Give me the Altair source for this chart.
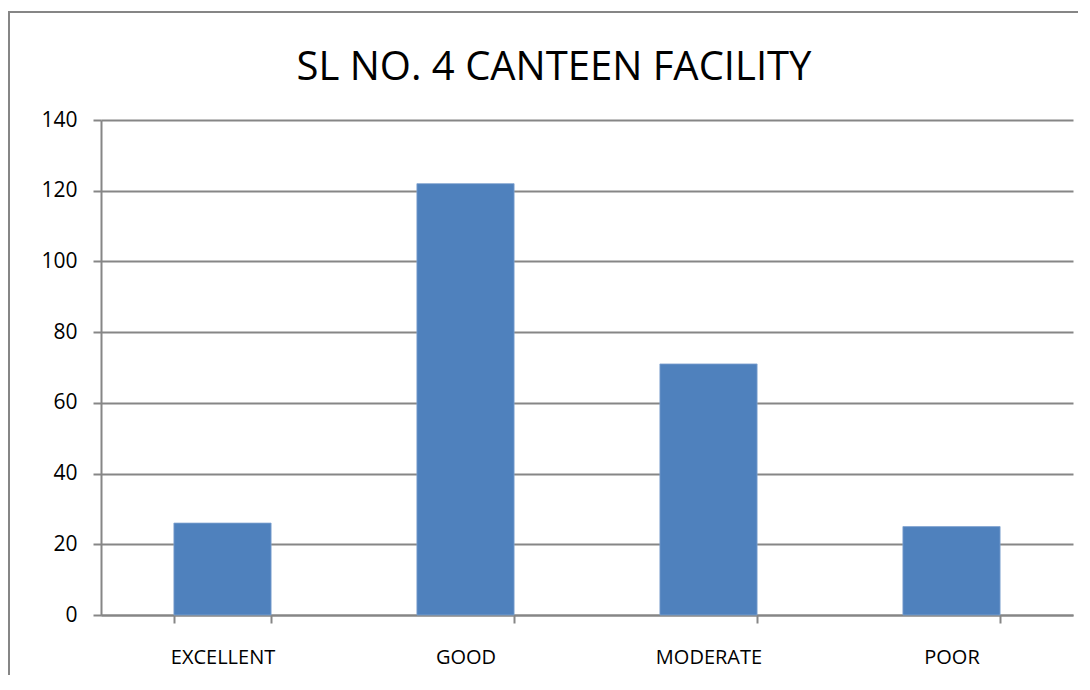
import altair as alt
import pandas as pd

categories = ["EXCELLENT", "GOOD", "MODERATE", "POOR"]
values = [26, 122, 71, 25]
title_text = "SL NO. 4 CANTEEN FACILITY"

df = pd.DataFrame({"category": categories, "value": values})

FONT = "Open Sans"
GRID = "#868686"

border = alt.Chart(pd.DataFrame({"k": [0]})).mark_rect(
    fill=None, stroke=GRID, strokeWidth=2
).encode(
    x=alt.value(-92), x2=alt.value(1000),
    y=alt.value(-108), y2=alt.value(700)
)

title = alt.Chart(pd.DataFrame({"t": [title_text]})).mark_text(
    font=FONT, fontSize=40, color="black", align="center", baseline="alphabetic"
).encode(
    text="t:N", x=alt.value(453), y=alt.value(-40)
)

bars = alt.Chart(df).mark_bar(color="#4F81BD", stroke="#7FA2CF", strokeWidth=0.8).encode(
    x=alt.X("category:N", sort=categories,
            scale=alt.Scale(paddingInner=0.6, paddingOuter=0.3),
            axis=alt.Axis(title=None, labelAngle=0, tickBand="extent",
                          tickSize=8, tickColor=GRID, tickWidth=2,
                          domainColor=GRID, domainWidth=2,
                          labelFont=FONT, labelFontSize=20, labelColor="black",
                          labelPadding=24, grid=False)),
    y=alt.Y("value:Q", scale=alt.Scale(domain=[0, 140]),
            axis=alt.Axis(title=None, values=[0, 20, 40, 60, 80, 100, 120, 140],
                          tickSize=8, tickColor=GRID, tickWidth=2,
                          domainColor=GRID, domainWidth=2,
                          grid=True, gridColor=GRID, gridWidth=2,
                          labelFont=FONT, labelFontSize=21, labelColor="black",
                          labelPadding=16))
)

chart = alt.layer(border, title, bars).properties(
    width=972, height=495,
    padding={"left": 93, "top": 112, "right": 5, "bottom": 60},
    autosize=alt.AutoSizeParams(type="none"),
).configure_view(stroke=None)

chart.save("out.html", embed_options={"renderer": "svg", "actions": False})
